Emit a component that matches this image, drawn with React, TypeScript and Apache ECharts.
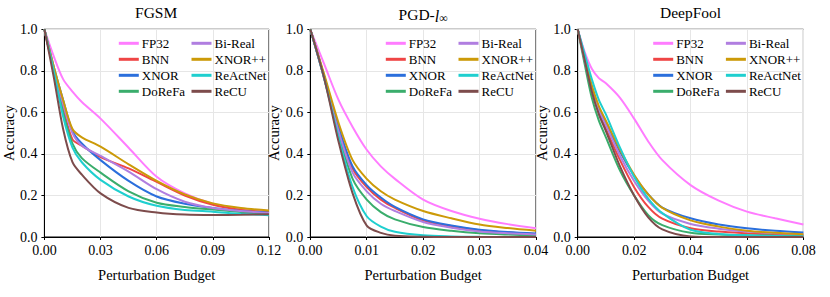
import React, { useEffect, useRef } from "react";
import * as echarts from "echarts";

const methods = ["FP32", "BNN", "XNOR", "DoReFa", "Bi-Real", "XNOR++", "ReActNet", "ReCU"];
const colors = ["#ff7cff", "#ef4545", "#2b6fdc", "#3aad6c", "#b07ee0", "#cc9a08", "#1fcfcf", "#7d4c4c"];
const legendCol1 = ["FP32", "BNN", "XNOR", "DoReFa"];
const legendCol2 = ["Bi-Real", "XNOR++", "ReActNet", "ReCU"];

const titles = ["FGSM", "PGD-{i|l}{s|∞}", "DeepFool"];
const xMax = [0.12, 0.04, 0.08];
const xInterval = [0.03, 0.01, 0.02];

// FGSM
const fgsmX = [0, 0.005, 0.01, 0.015, 0.02, 0.03, 0.045, 0.06, 0.075, 0.09, 0.105, 0.12];
const fgsmFP32 = [1.0, 0.87, 0.76, 0.7, 0.65, 0.57, 0.43, 0.29, 0.21, 0.16, 0.135, 0.125];
const fgsmBNN = [1.0, 0.8, 0.62, 0.47, 0.44, 0.385, 0.33, 0.265, 0.2, 0.155, 0.13, 0.12];
const fgsmXNOR = [1.0, 0.82, 0.66, 0.51, 0.45, 0.37, 0.27, 0.195, 0.16, 0.14, 0.125, 0.118];
const fgsmDoReFa = [1.0, 0.8, 0.6, 0.45, 0.38, 0.31, 0.22, 0.165, 0.145, 0.132, 0.12, 0.11];
const fgsmBiReal = [1.0, 0.81, 0.64, 0.5, 0.44, 0.39, 0.315, 0.23, 0.17, 0.14, 0.125, 0.115];
const fgsmXNORpp = [1.0, 0.82, 0.66, 0.52, 0.48, 0.435, 0.35, 0.27, 0.205, 0.162, 0.14, 0.128];
const fgsmReActNet = [1.0, 0.8, 0.58, 0.43, 0.36, 0.275, 0.195, 0.15, 0.13, 0.122, 0.112, 0.105];
const fgsmReCU = [1.0, 0.77, 0.52, 0.36, 0.3, 0.21, 0.14, 0.118, 0.108, 0.106, 0.107, 0.11];

// PGD
const pgdX = [0, 0.0025, 0.005, 0.0075, 0.01, 0.0125, 0.015, 0.02, 0.025, 0.03, 0.035, 0.04];
const pgdFP32 = [1.0, 0.83, 0.66, 0.53, 0.42, 0.34, 0.28, 0.18, 0.125, 0.088, 0.062, 0.042];
const pgdBNN = [1.0, 0.77, 0.52, 0.33, 0.24, 0.18, 0.14, 0.08, 0.052, 0.033, 0.022, 0.015];
const pgdXNOR = [1.0, 0.77, 0.53, 0.34, 0.25, 0.19, 0.145, 0.085, 0.055, 0.035, 0.024, 0.017];
const pgdDoReFa = [1.0, 0.76, 0.5, 0.28, 0.18, 0.12, 0.085, 0.048, 0.03, 0.018, 0.012, 0.008];
const pgdBiReal = [1.0, 0.76, 0.51, 0.31, 0.22, 0.16, 0.125, 0.072, 0.045, 0.027, 0.018, 0.012];
const pgdXNORpp = [1.0, 0.78, 0.55, 0.37, 0.28, 0.22, 0.18, 0.125, 0.09, 0.06, 0.043, 0.03];
const pgdReActNet = [1.0, 0.76, 0.48, 0.24, 0.1, 0.05, 0.025, 0.008, 0.003, 0.001, 0, 0];
const pgdReCU = [1.0, 0.76, 0.46, 0.21, 0.055, 0.02, 0.006, 0.001, 0, 0, 0, 0];

// DeepFool
const dfX = [0, 0.0025, 0.005, 0.0075, 0.01, 0.015, 0.02, 0.025, 0.03, 0.04, 0.05, 0.06, 0.07, 0.08];
const dfFP32 = [1.0, 0.89, 0.81, 0.765, 0.74, 0.67, 0.57, 0.46, 0.37, 0.25, 0.175, 0.122, 0.09, 0.06];
const dfBNN = [1.0, 0.85, 0.7, 0.6, 0.52, 0.37, 0.24, 0.145, 0.088, 0.042, 0.026, 0.018, 0.012, 0.008];
const dfXNOR = [1.0, 0.86, 0.72, 0.62, 0.55, 0.41, 0.295, 0.205, 0.142, 0.09, 0.06, 0.042, 0.03, 0.022];
const dfDoReFa = [1.0, 0.83, 0.67, 0.56, 0.48, 0.32, 0.2, 0.105, 0.057, 0.02, 0.012, 0.008, 0.006, 0.005];
const dfBiReal = [1.0, 0.85, 0.71, 0.61, 0.54, 0.39, 0.27, 0.175, 0.112, 0.063, 0.04, 0.026, 0.018, 0.012];
const dfXNORpp = [1.0, 0.86, 0.73, 0.63, 0.56, 0.42, 0.3, 0.205, 0.14, 0.08, 0.05, 0.03, 0.02, 0.013];
const dfReActNet = [1.0, 0.88, 0.76, 0.66, 0.59, 0.43, 0.29, 0.185, 0.115, 0.035, 0.015, 0.008, 0.005, 0.003];
const dfReCU = [1.0, 0.85, 0.7, 0.59, 0.51, 0.34, 0.2, 0.095, 0.037, 0.003, 0, 0, 0, 0];

const panelX = [fgsmX, pgdX, dfX];
const panelSeries = [
  [fgsmFP32, fgsmBNN, fgsmXNOR, fgsmDoReFa, fgsmBiReal, fgsmXNORpp, fgsmReActNet, fgsmReCU],
  [pgdFP32, pgdBNN, pgdXNOR, pgdDoReFa, pgdBiReal, pgdXNORpp, pgdReActNet, pgdReCU],
  [dfFP32, dfBNN, dfXNOR, dfDoReFa, dfBiReal, dfXNORpp, dfReActNet, dfReCU],
];

const FONT = "Liberation Serif";
const gridLefts = [43.3, 310.3, 577.7];
const gridTop = 29.3;
const gridW = 225.7;
const gridH = 207.7;

export default function App() {
  const ref = useRef<HTMLDivElement>(null);
  useEffect(() => {
    if (!ref.current) return;
    const chart = echarts.init(ref.current, undefined, { renderer: "svg" });
    const grids: any[] = [];
    const xAxes: any[] = [];
    const yAxes: any[] = [];
    const series: any[] = [];
    const legends: any[] = [];
    const titleArr: any[] = [];
    for (let p = 0; p < 3; p++) {
      grids.push({
        left: gridLefts[p],
        top: gridTop,
        width: gridW,
        height: gridH,
        show: true,
        borderColor: "#000",
        borderWidth: 1,
        backgroundColor: "transparent",
      });
      xAxes.push({
        type: "value",
        gridIndex: p,
        min: 0,
        max: xMax[p],
        interval: xInterval[p],
        name: "Perturbation Budget",
        nameLocation: "middle",
        nameGap: 30,
        nameTextStyle: { fontFamily: FONT, fontSize: 14.5, color: "#000" },
        axisLine: { show: true, onZero: false, lineStyle: { color: "#000", width: 1 } },
        axisTick: { show: true, inside: false, length: 3, lineStyle: { color: "#000" } },
        axisLabel: {
          fontFamily: FONT,
          fontSize: 14,
          color: "#000",
          margin: 6,
          formatter: (v: number) => v.toFixed(2),
        },
        splitLine: { show: true, lineStyle: { color: "#e6e6e6", width: 1 } },
      });
      yAxes.push({
        type: "value",
        gridIndex: p,
        min: 0,
        max: 1,
        interval: 0.2,
        name: "Accuracy",
        nameLocation: "middle",
        nameGap: 25,
        nameTextStyle: { fontFamily: FONT, fontSize: 14.5, color: "#000" },
        axisLine: { show: true, onZero: false, lineStyle: { color: "#000", width: 1 } },
        axisTick: { show: true, inside: false, length: 3, lineStyle: { color: "#000" } },
        axisLabel: {
          fontFamily: FONT,
          fontSize: 14,
          color: "#000",
          margin: 7,
          formatter: (v: number) => v.toFixed(1),
        },
        splitLine: { show: true, lineStyle: { color: "#e6e6e6", width: 1 } },
      });
      methods.forEach((m, i) => {
        series.push({
          type: "line",
          name: m,
          xAxisIndex: p,
          yAxisIndex: p,
          data: panelX[p].map((x, k) => [x, panelSeries[p][i][k]]),
          smooth: 0.3,
          symbol: "none",
          lineStyle: { width: 2, color: colors[i] },
          itemStyle: { color: colors[i] },
          z: 2 + i,
        });
      });
      const legBase = {
        orient: "vertical",
        top: 36.3,
        padding: 0,
        itemGap: 2,
        itemWidth: 20,
        itemHeight: 3,
        icon: "rect",
        textStyle: { fontFamily: FONT, fontSize: 13, color: "#000", lineHeight: 14, padding: [0, 0, 0, -2] },
        selectedMode: false,
      };
      legends.push({ ...legBase, left: gridLefts[p] + 75.5, data: legendCol1 });
      legends.push({ ...legBase, left: gridLefts[p] + 148.2, data: legendCol2 });
      titleArr.push({
        text: titles[p],
        left: gridLefts[p] + gridW / 2,
        top: 4,
        textAlign: "center",
        padding: 0,
        textStyle: {
          fontFamily: FONT,
          fontSize: 15.5,
          fontWeight: "normal",
          color: "#000",
          rich: {
            i: { fontFamily: FONT, fontSize: 16, fontStyle: "italic", color: "#000", verticalAlign: "bottom", lineHeight: 20 },
            s: { fontFamily: FONT, fontSize: 12, color: "#000", verticalAlign: "bottom", lineHeight: 14 },
          },
        },
      });
    }
    chart.setOption({
      animation: false,
      backgroundColor: "#fff",
      title: titleArr,
      legend: legends,
      grid: grids,
      xAxis: xAxes,
      yAxis: yAxes,
      series,
    });
    return () => chart.dispose();
  }, []);
  return (
    <div
      ref={ref}
      style={{ position: "fixed", left: 0, top: 0, width: 830, height: 297 }}
    />
  );
}
